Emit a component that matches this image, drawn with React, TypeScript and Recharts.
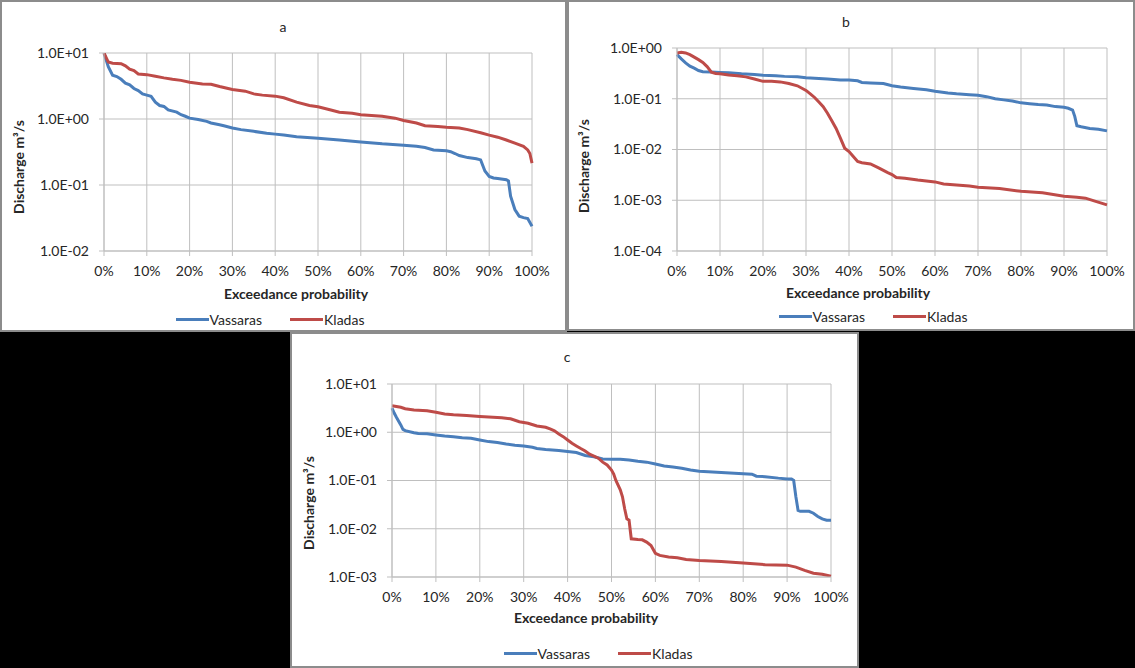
import React from "react";
import {
  LineChart,
  Line,
  XAxis,
  YAxis,
  CartesianGrid,
  Legend,
  Label,
} from "recharts";

// exceedance probability (%) and discharge (m3/s)
const aVassarasP = [0, 1, 2, 3, 4, 5, 6, 7, 8, 9, 10, 11, 12, 13, 14, 15, 17, 18, 19, 20, 22, 24, 25, 27, 28, 30, 32, 35, 38, 40, 42, 45, 50, 55, 60, 65, 70, 73, 75, 77, 80, 81, 82, 83, 85, 87, 88, 89, 90, 91, 92, 94, 94.5, 95, 96, 97, 98, 99, 100];
const aVassarasQ = [10, 6.2, 4.6, 4.4, 4.0, 3.5, 3.3, 2.9, 2.7, 2.4, 2.3, 2.2, 1.8, 1.6, 1.55, 1.37, 1.27, 1.16, 1.1, 1.03, 0.98, 0.92, 0.87, 0.82, 0.79, 0.73, 0.69, 0.65, 0.61, 0.59, 0.57, 0.54, 0.51, 0.48, 0.45, 0.42, 0.4, 0.385, 0.37, 0.34, 0.33, 0.32, 0.3, 0.28, 0.26, 0.25, 0.24, 0.163, 0.135, 0.128, 0.125, 0.12, 0.115, 0.0675, 0.0425, 0.0337, 0.032, 0.031, 0.0238];
const aKladasP = [0, 1, 2, 4, 5, 6, 7, 8, 10, 12, 14, 16, 18, 20, 23, 25, 27, 30, 33, 35, 37, 40, 42, 45, 48, 50, 53, 55, 58, 60, 65, 68, 70, 73, 75, 78, 80, 83, 85, 88, 90, 92, 94, 96, 98, 99, 99.5, 100];
const aKladasQ = [10, 7.3, 7.0, 6.9, 6.4, 5.7, 5.4, 4.8, 4.7, 4.45, 4.2, 4.0, 3.85, 3.6, 3.4, 3.36, 3.1, 2.8, 2.64, 2.4, 2.3, 2.22, 2.1, 1.8, 1.6, 1.53, 1.37, 1.27, 1.22, 1.16, 1.1, 1.03, 0.95, 0.87, 0.79, 0.77, 0.75, 0.73, 0.69, 0.62, 0.57, 0.53, 0.48, 0.43, 0.385, 0.34, 0.3, 0.215];

const bVassarasP = [0, 1, 2, 3, 4, 5, 6, 8, 10, 12, 15, 18, 20, 23, 25, 28, 30, 33, 35, 38, 40, 42, 43, 45, 48, 50, 52, 55, 58, 60, 63, 65, 68, 70, 72, 74, 76, 78, 80, 82, 84, 86, 88, 90, 91, 92, 92.5, 93, 94, 96, 98, 100];
const bVassarasQ = [0.74, 0.61, 0.51, 0.44, 0.4, 0.36, 0.34, 0.335, 0.33, 0.325, 0.31, 0.3, 0.29, 0.285, 0.276, 0.27, 0.26, 0.25, 0.245, 0.235, 0.235, 0.226, 0.21, 0.205, 0.2, 0.18, 0.17, 0.16, 0.15, 0.14, 0.13, 0.125, 0.12, 0.117, 0.11, 0.1, 0.095, 0.09, 0.083, 0.08, 0.077, 0.075, 0.07, 0.068, 0.065, 0.06, 0.045, 0.0293, 0.028, 0.026, 0.025, 0.0233];
const bKladasP = [0, 1, 2, 3, 4, 5, 6, 7, 8, 9, 10, 12, 14, 16, 18, 20, 22, 24, 26, 28, 30, 31, 32, 33, 34, 35, 36, 37, 38, 39, 40, 41, 42, 43, 45, 47, 49, 50, 51, 53, 56, 58, 60, 62, 65, 68, 70, 75, 80, 85, 90, 93, 95, 97, 100];
const bKladasQ = [0.8, 0.82, 0.8, 0.74, 0.66, 0.59, 0.52, 0.43, 0.335, 0.315, 0.31, 0.295, 0.285, 0.27, 0.245, 0.22, 0.22, 0.215, 0.2, 0.18, 0.146, 0.125, 0.106, 0.086, 0.07, 0.052, 0.037, 0.026, 0.0167, 0.0106, 0.0091, 0.0073, 0.0058, 0.0055, 0.0052, 0.0043, 0.0035, 0.0032, 0.0028, 0.0027, 0.0025, 0.0024, 0.0023, 0.0021, 0.002, 0.0019, 0.0018, 0.0017, 0.0015, 0.0014, 0.0012, 0.00115, 0.0011, 0.00097, 0.00081];

const cVassarasP = [0, 0.5, 1, 2, 2.5, 3, 5, 6, 8, 10, 12, 14, 16, 18, 20, 22, 24, 26, 28, 30, 32, 33, 35, 38, 40, 42, 44, 46, 48, 50, 52, 54, 56, 58, 60, 62, 64, 66, 68, 70, 72, 75, 78, 80, 82, 83, 85, 88, 90, 91, 91.5, 92, 92.5, 93, 95, 96, 97, 98, 99, 100];
const cVassarasQ = [3.16, 2.5, 2.05, 1.42, 1.15, 1.08, 0.98, 0.94, 0.93, 0.88, 0.84, 0.81, 0.77, 0.75, 0.69, 0.64, 0.61, 0.57, 0.54, 0.52, 0.49, 0.46, 0.44, 0.42, 0.4, 0.38, 0.33, 0.31, 0.28, 0.275, 0.275, 0.265, 0.25, 0.24, 0.22, 0.2, 0.19, 0.18, 0.165, 0.155, 0.152, 0.147, 0.142, 0.138, 0.135, 0.123, 0.12, 0.112, 0.108, 0.107, 0.1, 0.046, 0.024, 0.023, 0.023, 0.021, 0.018, 0.016, 0.015, 0.015];
const cKladasP = [0, 2, 3, 5, 8, 10, 12, 14, 17, 20, 23, 25, 27, 29, 31, 33, 35, 36, 37, 38, 39, 40, 41, 42, 43, 44, 45, 46, 47, 48, 49, 50, 50.5, 51, 52, 52.5, 53, 53.5, 54, 54.5, 56, 57, 58, 59, 60, 61, 63, 65, 67, 70, 75, 80, 85, 90, 92, 94, 96, 98, 100];
const cKladasQ = [3.54, 3.3, 3.07, 2.9, 2.8, 2.6, 2.4, 2.3, 2.22, 2.12, 2.05, 2.0, 1.9, 1.65, 1.54, 1.35, 1.27, 1.17, 1.07, 0.92, 0.81, 0.69, 0.59, 0.52, 0.46, 0.41, 0.35, 0.32, 0.29, 0.24, 0.21, 0.164, 0.136, 0.1, 0.064, 0.046, 0.026, 0.016, 0.015, 0.0062, 0.006, 0.0059, 0.0053, 0.0045, 0.0031, 0.0028, 0.0026, 0.0025, 0.0023, 0.0022, 0.0021, 0.00195, 0.0018, 0.00176, 0.0016, 0.00137, 0.0012, 0.00114, 0.00104];

const xTicks = [0, 10, 20, 30, 40, 50, 60, 70, 80, 90, 100];
const aYTicks = [0.01, 0.1, 1, 10];
const bYTicks = [0.0001, 0.001, 0.01, 0.1, 1];
const cYTicks = [0.001, 0.01, 0.1, 1, 10];
const seriesOrder = ["Vassaras", "Kladas"];

const BLUE = "#4a7ebb";
const RED = "#be4b48";
const GRID = "#bfbfbf";
const TEXT = "#262626";
const FONT = "Lato, 'Open Sans', sans-serif";

const toPoints = (p: number[], q: number[]) =>
  p.map((x, i) => ({ p: x, q: q[i] }));

// Excel-style scientific label: 1.0E+01
const sci = (v: number) => {
  const e = Math.round(Math.log10(v));
  return `1.0E${e < 0 ? "-" : "+"}${String(Math.abs(e)).padStart(2, "0")}`;
};

interface PanelProps {
  title: string;
  left: number;
  top: number;
  width: number;
  height: number;
  plot: { left: number; right: number; top: number; bottom: number };
  yTicks: number[];
  vassaras: { p: number; q: number }[];
  kladas: { p: number; q: number }[];
  titlePos: [number, number];
  yTitlePos: [number, number];
  xTitlePos: [number, number];
  legendPos: [number, number];
}

function LegendContent({ payload }: any) {
  const items = [...(payload || [])].sort(
    (a: any, b: any) => seriesOrder.indexOf(a.value) - seriesOrder.indexOf(b.value)
  );
  return (
    <div
      style={{
        display: "flex",
        justifyContent: "center",
        alignItems: "center",
        gap: 28,
        fontSize: 14,
        color: TEXT,
        fontFamily: FONT,
      }}
    >
      {items.map((entry: any) => (
        <span key={entry.value} style={{ display: "flex", alignItems: "center" }}>
          <span style={{ width: 33, height: 3, background: entry.color, marginRight: 1 }} />
          <span>{entry.value}</span>
        </span>
      ))}
    </div>
  );
}

function Panel({
  title,
  left,
  top,
  width,
  height,
  plot,
  yTicks,
  vassaras,
  kladas,
  titlePos,
  yTitlePos,
  xTitlePos,
  legendPos,
}: PanelProps) {
  return (
    <div
      style={{
        position: "absolute",
        left,
        top,
        width,
        height,
        background: "#fff",
        outline: "2px solid #8c8c8c",
        outlineOffset: -2,
        fontFamily: FONT,
      }}
    >
      <div
        style={{
          position: "absolute",
          left: titlePos[0] - 20,
          width: 40,
          top: titlePos[1] - 9,
          textAlign: "center",
          fontSize: 14,
          lineHeight: "18px",
          color: TEXT,
        }}
      >
        {title}
      </div>
      <LineChart
        width={width}
        height={height}
        margin={{ top: plot.top, right: width - plot.right, left: 0, bottom: 0 }}
        style={{ position: "absolute", left: 0, top: 0 }}
      >
        <CartesianGrid stroke={GRID} strokeWidth={1} />
        <XAxis
          type="number"
          dataKey="p"
          domain={[0, 100]}
          ticks={xTicks}
          interval={0}
          tickFormatter={(v) => `${v}%`}
          height={height - plot.bottom}
          tickSize={5}
          tickMargin={10}
          stroke={GRID}
          tick={{ fill: TEXT, fontSize: 14, fontFamily: FONT }}
        >
          <Label
            content={() => (
              <text
                x={xTitlePos[0]}
                y={xTitlePos[1]}
                textAnchor="middle"
                dominantBaseline="central"
                fontWeight="bold"
                fontSize={14}
                fill={TEXT}
                fontFamily={FONT}
              >
                Exceedance probability
              </text>
            )}
          />
        </XAxis>
        <YAxis
          type="number"
          scale="log"
          domain={[yTicks[0], yTicks[yTicks.length - 1]]}
          ticks={yTicks}
          interval={0}
          allowDataOverflow
          tickFormatter={sci}
          width={plot.left}
          tickSize={5}
          tickMargin={10}
          stroke={GRID}
          tick={{ fill: TEXT, fontSize: 14, fontFamily: FONT }}
        >
          <Label
            content={() => (
              <text
                x={yTitlePos[0]}
                y={yTitlePos[1]}
                transform={`rotate(-90 ${yTitlePos[0]} ${yTitlePos[1]})`}
                textAnchor="middle"
                dominantBaseline="central"
                fontWeight="bold"
                fontSize={14}
                fill={TEXT}
                fontFamily={FONT}
              >
                Discharge m³/s
              </text>
            )}
          />
        </YAxis>
        <Legend
          layout="horizontal"
          verticalAlign="middle"
          align="center"
          content={<LegendContent />}
          wrapperStyle={{
            left: legendPos[0] - 130,
            width: 260,
            top: legendPos[1] - 10,
            height: 20,
          }}
        />
        <Line
          data={vassaras}
          dataKey="q"
          name="Vassaras"
          stroke={BLUE}
          strokeWidth={3}
          dot={false}
          type="linear"
          isAnimationActive={false}
        />
        <Line
          data={kladas}
          dataKey="q"
          name="Kladas"
          stroke={RED}
          strokeWidth={3}
          dot={false}
          type="linear"
          isAnimationActive={false}
        />
      </LineChart>
    </div>
  );
}

export default function App() {
  return (
    <div
      style={{
        position: "fixed",
        left: 0,
        top: 0,
        width: 1135,
        height: 668,
        background: "#000",
        overflow: "hidden",
      }}
    >
      <Panel
        title="a"
        left={0}
        top={0}
        width={567}
        height={332}
        plot={{ left: 104, right: 532, top: 53, bottom: 251 }}
        yTicks={aYTicks}
        vassaras={toPoints(aVassarasP, aVassarasQ)}
        kladas={toPoints(aKladasP, aKladasQ)}
        titlePos={[283, 27]}
        yTitlePos={[18, 167]}
        xTitlePos={[296, 293]}
        legendPos={[270, 321]}
      />
      <Panel
        title="b"
        left={567}
        top={0}
        width={568}
        height={331}
        plot={{ left: 110, right: 540, top: 48, bottom: 251 }}
        yTicks={bYTicks}
        vassaras={toPoints(bVassarasP, bVassarasQ)}
        kladas={toPoints(bKladasP, bKladasQ)}
        titlePos={[279, 22]}
        yTitlePos={[16, 166]}
        xTitlePos={[291, 292]}
        legendPos={[306, 318]}
      />
      <Panel
        title="c"
        left={290}
        top={332}
        width={569}
        height={336}
        plot={{ left: 102, right: 541, top: 52, bottom: 245 }}
        yTicks={cYTicks}
        vassaras={toPoints(cVassarasP, cVassarasQ)}
        kladas={toPoints(cKladasP, cKladasQ)}
        titlePos={[277, 25]}
        yTitlePos={[18, 171]}
        xTitlePos={[296, 285]}
        legendPos={[308, 323]}
      />
    </div>
  );
}
